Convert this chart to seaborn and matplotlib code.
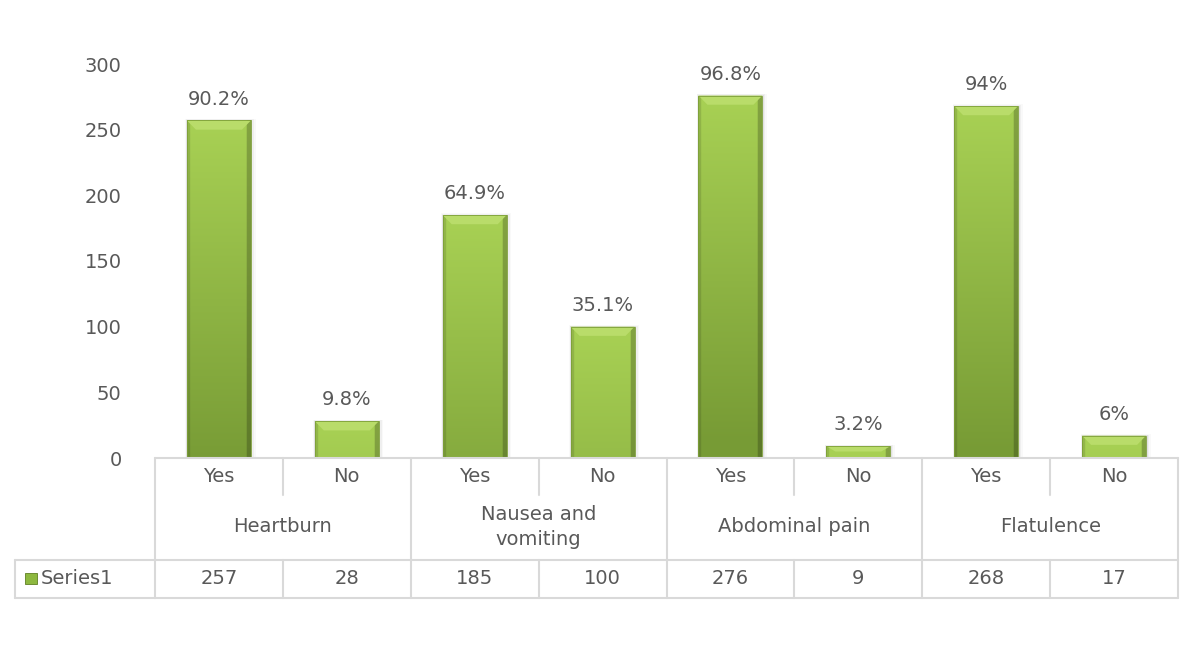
import numpy as np
import pandas as pd
import matplotlib.pyplot as plt
import matplotlib.transforms as mtransforms
from matplotlib.lines import Line2D
from matplotlib.patches import Polygon, Rectangle
import seaborn as sns

# data
groups = ["Heartburn", "Nausea and\nvomiting", "Abdominal pain", "Flatulence"]
answers = ["Yes", "No", "Yes", "No", "Yes", "No", "Yes", "No"]
counts = [257, 28, 185, 100, 276, 9, 268, 17]
pct_labels = ["90.2%", "9.8%", "64.9%", "35.1%", "96.8%", "3.2%", "94%", "6%"]
series_name = "Series1"
y_ticks = [0, 50, 100, 150, 200, 250, 300]

TEXT = "#595959"
GRID = "#D9D9D9"
W, H = 1201, 651


def fy(py):
    # pixel row -> figure fraction
    return 1 - py / H


def bar_image(h, cols=60):
    # shade darkens with depth below the bar top
    top = np.array([0.66, 0.82, 0.33])
    bot = np.array([0.47, 0.61, 0.21])
    rows = max(int(h * 2), 4)
    depth = np.linspace(0, h, rows)
    t = np.clip(depth / 260.0, 0, 1)[:, None, None]
    img = top * (1 - t) + bot * t
    img = np.repeat(img, cols, axis=1)
    shade = np.ones(cols)
    shade[:3] = 0.88
    shade[-4:] = 0.78
    return np.clip(img * shade[None, :, None], 0, 1)


def main():
    sns.set_theme(style="white")
    plt.rcParams['font.family'] = ['DejaVu Sans']

    df = pd.DataFrame({
        "slot": [f"{g}|{a}|{i}" for i, (g, a) in
                 enumerate(zip(np.repeat(groups, 2), answers))],
        "count": counts,
    })

    fig = plt.figure(figsize=(W / 100, H / 100), dpi=100)
    ax = fig.add_axes([155 / W, fy(458), (1178 - 155) / W, (458 - 64) / H])
    sns.barplot(data=df, x="slot", y="count", color="#92BB45", width=0.5,
                ax=ax, saturation=1)
    ax.set_ylim(0, 300)
    ax.set_xlim(-0.5, len(counts) - 0.5)
    ax.set_yticks(y_ticks)
    ax.tick_params(axis="y", labelsize=14, labelcolor=TEXT, length=0, pad=24)
    ax.set_xticks([])
    ax.set_xlabel("")
    ax.set_ylabel("")
    for s in ax.spines.values():
        s.set_visible(False)

    # bevelled gradient look on each bar
    for p, lab in zip(ax.patches, pct_labels):
        x0, w, h = p.get_x(), p.get_width(), p.get_height()
        # soft shadow, mostly to the right
        for k, a in enumerate([0.06, 0.04, 0.025]):
            ax.add_patch(Rectangle((x0 - 0.004 * (k + 1), 0),
                                   w + 0.016 * (k + 1), h + 0.4 * (k + 1),
                                   facecolor="#000000", alpha=a,
                                   edgecolor="none", zorder=2))
        im = ax.imshow(bar_image(h), extent=(x0, x0 + w, 0, h),
                       aspect="auto", zorder=3, interpolation="bilinear")
        im.set_clip_path(p)
        bx, by = w * 0.14, min(7, h * 0.45)
        ax.add_patch(Polygon([(x0, h), (x0 + w, h), (x0 + w - bx, h - by),
                              (x0 + bx, h - by)], closed=True,
                             facecolor="#B9DC6A", edgecolor="none", zorder=4))
        ax.add_patch(Rectangle((x0, 0), w, h, facecolor="none",
                               edgecolor="#7D9F38", lw=0.6, zorder=5))
        ax.text(x0 + w / 2, h + 9, lab, ha="center", va="bottom",
                fontsize=14, color=TEXT)

    # data table under the axis
    tr = mtransforms.blended_transform_factory(ax.transData, fig.transFigure)
    n = len(counts)

    def hline(x0, x1, py, trans=tr):
        fig.add_artist(Line2D([x0, x1], [fy(py), fy(py)], color=GRID, lw=1.5,
                              transform=trans))

    def vline(x, py0, py1):
        fig.add_artist(Line2D([x, x], [fy(py0), fy(py1)], color=GRID, lw=1.5,
                              transform=tr))

    left = -0.5
    right = n - 0.5
    hline(left, right, 458)
    hline(left, right, 560)
    hline(left, right, 598)
    hline(15 / W, 155 / W, 560, fig.transFigure)
    hline(15 / W, 155 / W, 598, fig.transFigure)
    fig.add_artist(Line2D([15 / W, 15 / W], [fy(560), fy(598)], color=GRID,
                          lw=1.5, transform=fig.transFigure))
    for k in range(0, n + 1, 2):
        vline(k - 0.5, 458, 598)
    for k in range(1, n, 2):
        vline(k - 0.5, 458, 495)
        vline(k - 0.5, 560, 598)

    for i, (a, c) in enumerate(zip(answers, counts)):
        fig.text(i, fy(476), a, transform=tr, ha="center", va="center",
                 fontsize=14, color=TEXT)
        fig.text(i, fy(579), str(c), transform=tr, ha="center", va="center",
                 fontsize=14, color=TEXT)
    for j, g in enumerate(groups):
        fig.text(2 * j + 0.5, fy(527), g, transform=tr, ha="center",
                 va="center", fontsize=14, color=TEXT, linespacing=1.4)

    # legend key in the table
    fig.add_artist(Rectangle((25 / W, fy(584)), 12 / W, 11 / H,
                             transform=fig.transFigure, facecolor="#8DB83F",
                             edgecolor="#5F7F22", lw=0.6))
    fig.text(41 / W, fy(579), series_name, ha="left", va="center",
             fontsize=14, color=TEXT)

    fig.savefig("out.png", dpi=100)


if __name__ == "__main__":
    main()
